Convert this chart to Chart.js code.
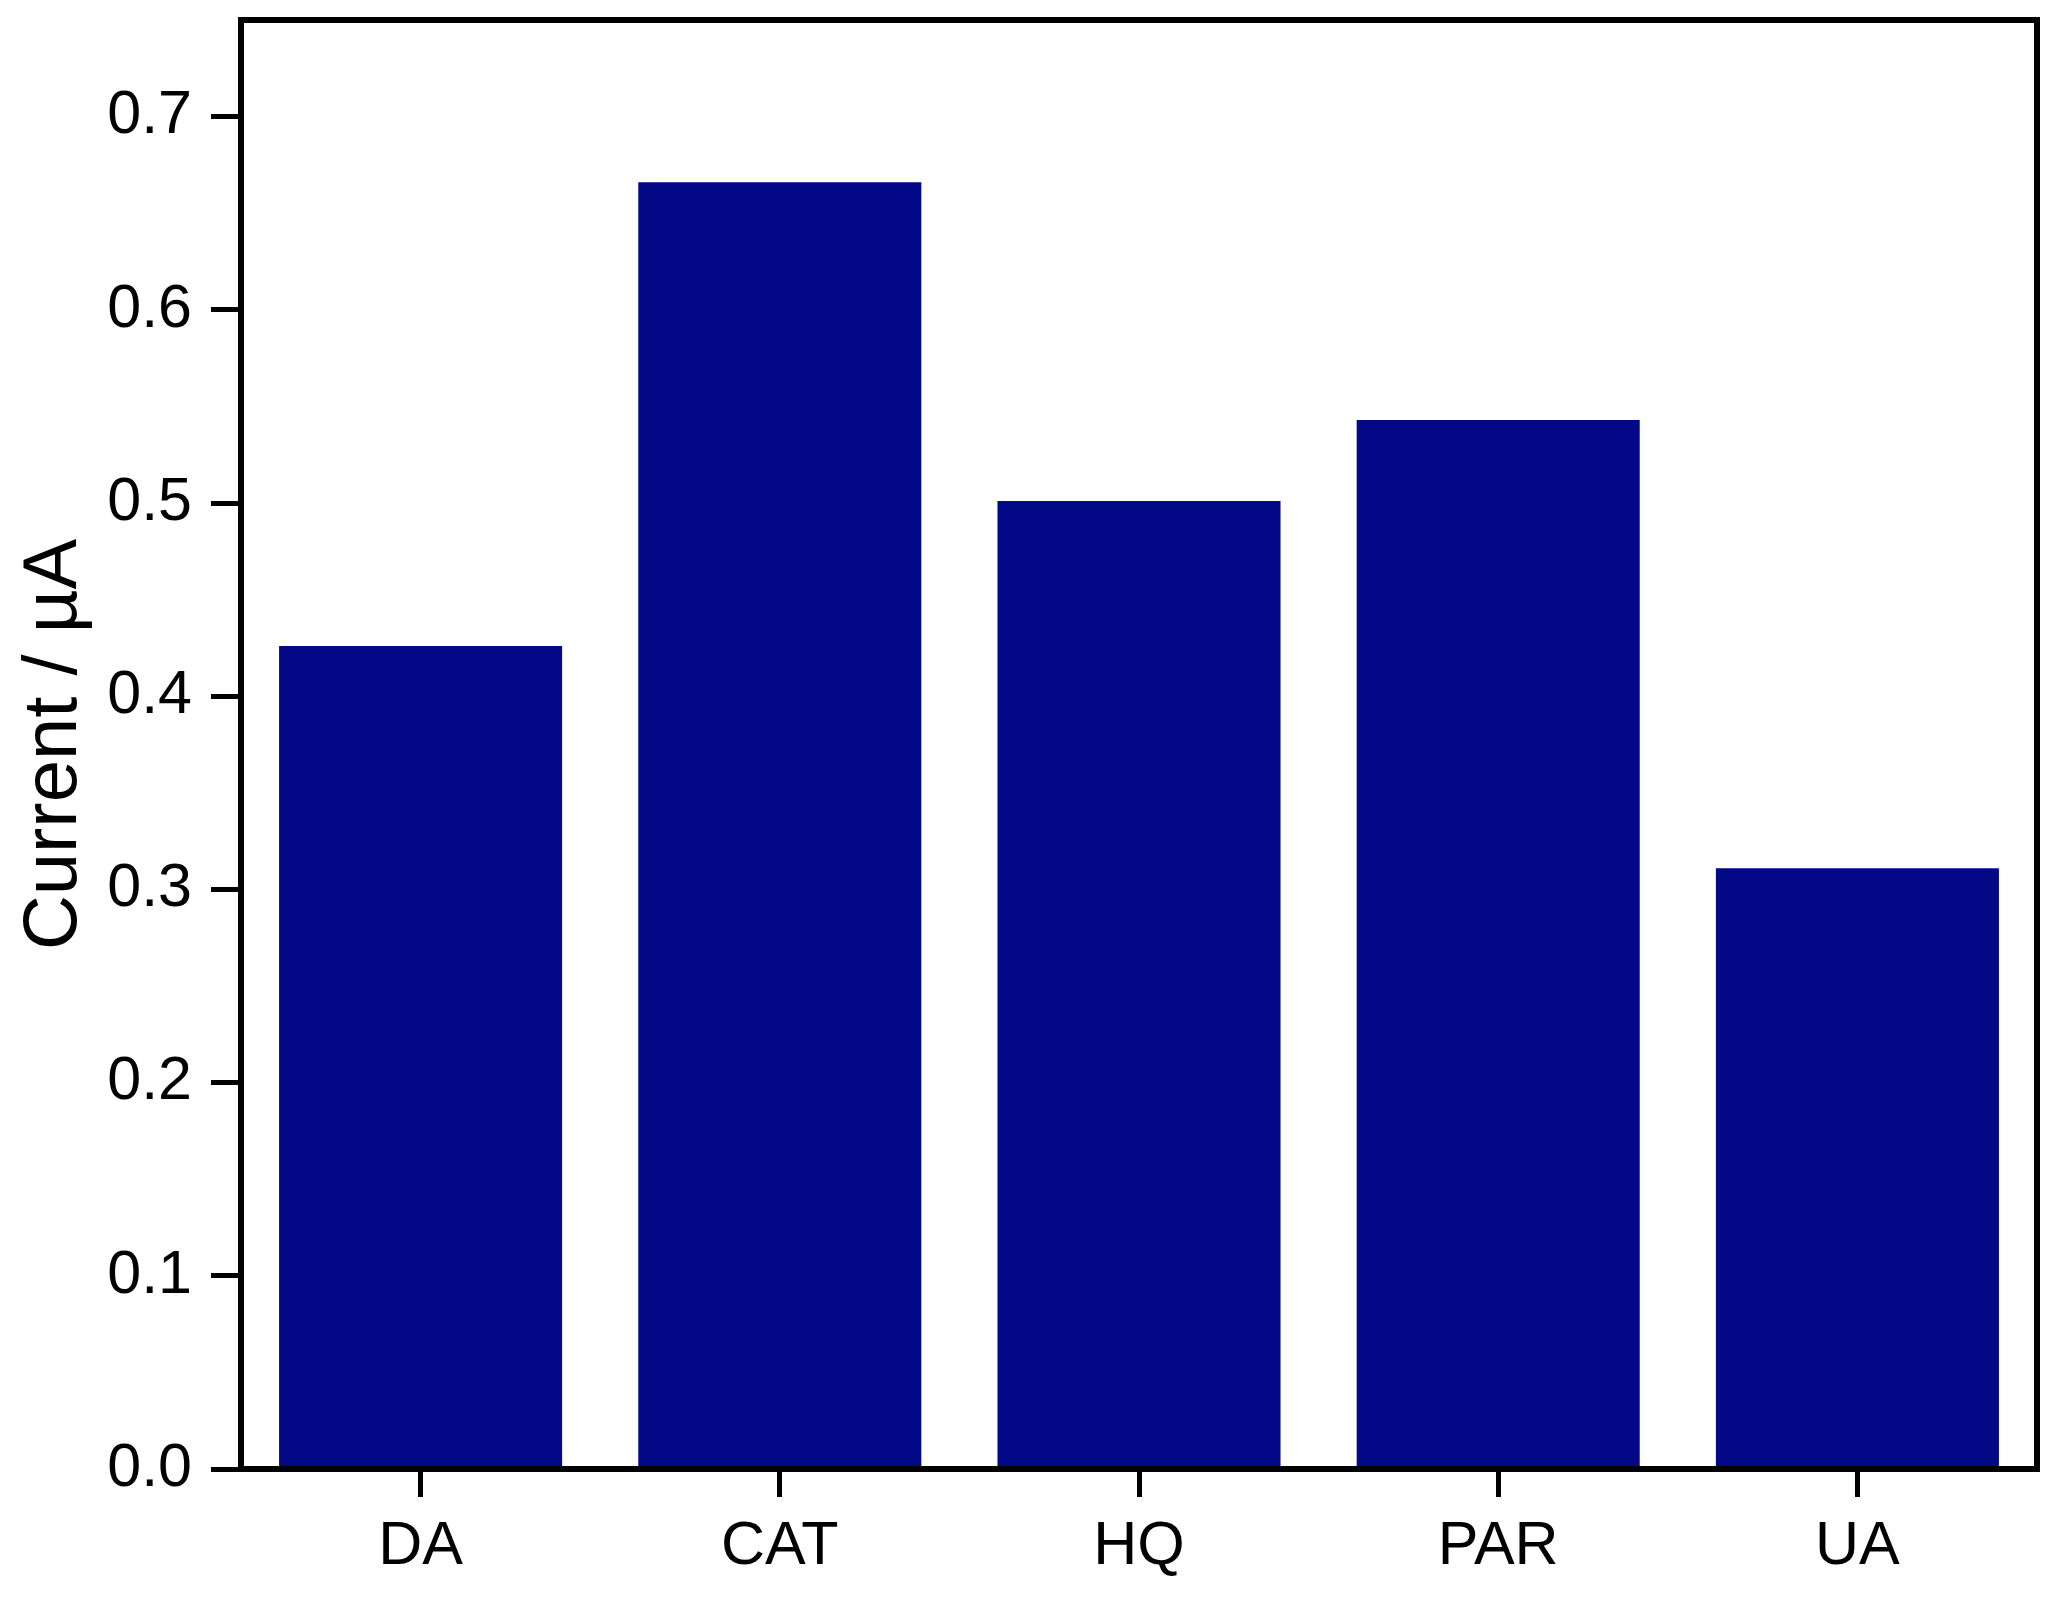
<!DOCTYPE html>
<html>
<head>
<meta charset="utf-8">
<title>Current by analyte</title>
<script src="https://cdn.jsdelivr.net/npm/chart.js@4.4.1/dist/chart.umd.min.js"></script>
<style>
  html, body { margin: 0; padding: 0; background: #fff; }
  #wrap { width: 2059px; height: 1598px; }
</style>
</head>
<body>
<div id="wrap"><canvas id="chart" width="2059" height="1598"></canvas></div>
<script>
// Peak current per analyte.
const categories = ['DA', 'CAT', 'HQ', 'PAR', 'UA'];
const currents   = [0.426, 0.666, 0.501, 0.543, 0.311];
const yTicks     = [0.0, 0.1, 0.2, 0.3, 0.4, 0.5, 0.6, 0.7];

const BAR_COLOR = '#020886';
const FONT = '"Liberation Sans", Arial, sans-serif';
const LINE_W = 6;

// Full box around the plot area (left/bottom already come from the axes).
const frame = {
  id: 'frame',
  afterDraw(chart) {
    const { ctx, chartArea: a } = chart;
    ctx.save();
    ctx.strokeStyle = '#000';
    ctx.lineWidth = LINE_W;
    ctx.strokeRect(a.left, a.top, a.right - a.left, a.bottom - a.top);
    ctx.restore();
  }
};

new Chart(document.getElementById('chart'), {
  type: 'bar',
  data: {
    labels: categories,
    datasets: [{
      data: currents,
      backgroundColor: BAR_COLOR,
      borderWidth: 0,
      categoryPercentage: 1,
      barPercentage: 0.788
    }]
  },
  options: {
    responsive: false,
    animation: false,
    layout: { padding: { top: 20, right: 22, left: 9, bottom: 0 } },
    plugins: { legend: { display: false }, tooltip: { enabled: false } },
    scales: {
      x: {
        z: 1,
        offset: true,
        border: { display: true, color: '#000', width: LINE_W },
        grid: {
          offset: false,
          drawOnChartArea: false,
          drawTicks: true,
          tickLength: 28,
          tickWidth: 5,
          tickColor: '#000'
        },
        ticks: {
          color: '#000',
          padding: 14,
          maxRotation: 0,
          autoSkip: false,
          font: { family: FONT, size: 61 }
        },
        afterFit(axis) {
          axis.height = 129;
          axis.paddingLeft = 0; axis.paddingRight = 0;
        }
      },
      y: {
        z: 1,
        min: 0,
        max: 0.75,
        border: { display: true, color: '#000', width: LINE_W },
        grid: {
          drawOnChartArea: false,
          drawTicks: true,
          tickLength: 30,
          tickWidth: 5,
          tickColor: '#000'
        },
        ticks: {
          color: '#000',
          padding: 19,
          font: { family: FONT, size: 61 },
          callback: v => Number(v).toFixed(1)
        },
        afterBuildTicks(axis) {
          axis.ticks = yTicks.map(v => ({ value: v }));
        },
        title: {
          display: true,
          text: 'Current / µA',
          color: '#000',
          padding: 0,
          font: { family: FONT, size: 76, lineHeight: 1.2 }
        },
        afterFit(axis) {
          axis.width = 232;
          axis.paddingTop = 0; axis.paddingBottom = 0;
        }
      }
    }
  },
  plugins: [frame]
});
</script>
</body>
</html>
